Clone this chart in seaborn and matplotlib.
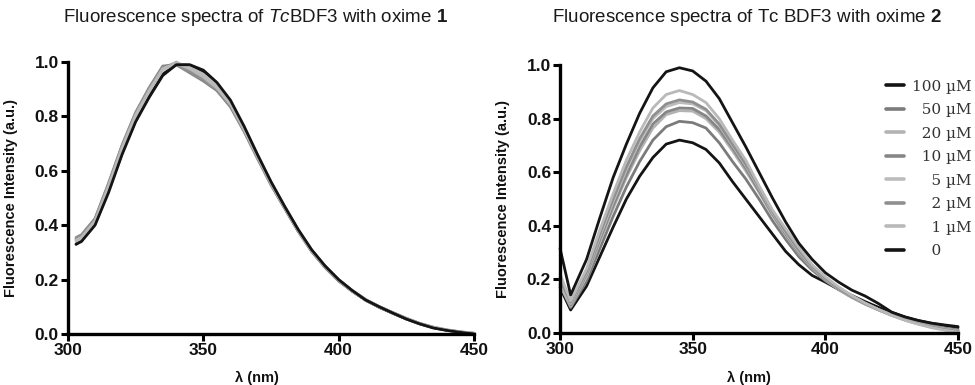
import numpy as np
import pandas as pd
import seaborn as sns
import matplotlib
matplotlib.use('Agg')
import matplotlib.pyplot as plt

sns.set_theme(style='ticks')
plt.rcParams['font.family'] = ['Liberation Sans', 'DejaVu Sans']
plt.rcParams['mathtext.fontset'] = 'custom'
plt.rcParams['mathtext.rm'] = 'Liberation Sans'
plt.rcParams['mathtext.it'] = 'Liberation Sans:italic'
plt.rcParams['mathtext.bf'] = 'Liberation Sans:bold'

concentrations = ['100 µM', '50 µM', '20 µM', '10 µM', '5 µM', '2 µM', '1 µM', '0']
legend_labels = ['100 µM', '\u200750 µM', '\u200720 µM', '\u200710 µM',
                 '\u2007\u20075 µM', '\u2007\u20072 µM', '\u2007\u20071 µM', '\u2007\u20070']
shades = ['#141414', '#7b7b7b', '#b3b3b3', '#868686', '#bcbcbc', '#8f8f8f', '#b9b9b9', '#141414']

# wavelength grids (nm)
wl_1 = [303, 305] + list(range(310, 451, 5))
wl_2 = [300, 304] + list(range(310, 451, 5))

# oxime 1, normalised spectra
ox1_100 = [0.33, 0.345, 0.405, 0.53, 0.665, 0.785, 0.875, 0.955, 0.99, 0.988, 0.965, 0.92, 0.855, 0.76, 0.655, 0.555,
           0.465, 0.38, 0.307, 0.248, 0.198, 0.158, 0.124, 0.098, 0.076, 0.055, 0.037, 0.023, 0.014, 0.007, 0.001]
ox1_50 = [0.35, 0.36, 0.42, 0.55, 0.69, 0.81, 0.90, 0.98, 0.995, 0.97, 0.94, 0.90, 0.84, 0.75, 0.65, 0.55,
          0.465, 0.38, 0.305, 0.245, 0.195, 0.158, 0.125, 0.10, 0.078, 0.057, 0.038, 0.024, 0.014, 0.007, 0.002]
ox1_20 = [0.345, 0.355, 0.415, 0.545, 0.685, 0.805, 0.895, 0.975, 1.0, 0.975, 0.95, 0.91, 0.845, 0.755, 0.655, 0.555,
          0.468, 0.383, 0.308, 0.248, 0.198, 0.16, 0.127, 0.101, 0.079, 0.058, 0.039, 0.025, 0.015, 0.008, 0.003]
ox1_10 = [0.35, 0.36, 0.42, 0.55, 0.69, 0.81, 0.905, 0.985, 0.99, 0.96, 0.93, 0.895, 0.835, 0.745, 0.645, 0.548,
          0.462, 0.378, 0.303, 0.244, 0.195, 0.157, 0.124, 0.099, 0.077, 0.056, 0.038, 0.024, 0.014, 0.007, 0.002]
ox1_5 = [0.34, 0.35, 0.41, 0.54, 0.68, 0.80, 0.89, 0.97, 0.995, 0.98, 0.955, 0.915, 0.85, 0.758, 0.658, 0.558,
         0.47, 0.384, 0.308, 0.249, 0.199, 0.16, 0.126, 0.10, 0.078, 0.057, 0.039, 0.025, 0.015, 0.008, 0.003]
ox1_2 = [0.355, 0.365, 0.425, 0.555, 0.695, 0.815, 0.905, 0.98, 0.99, 0.965, 0.935, 0.90, 0.84, 0.75, 0.65, 0.552,
         0.465, 0.38, 0.305, 0.246, 0.196, 0.158, 0.125, 0.10, 0.078, 0.057, 0.038, 0.024, 0.014, 0.007, 0.002]
ox1_1 = [0.345, 0.355, 0.415, 0.545, 0.685, 0.805, 0.895, 0.975, 0.995, 0.975, 0.945, 0.905, 0.845, 0.752, 0.652, 0.553,
         0.466, 0.381, 0.306, 0.247, 0.197, 0.159, 0.126, 0.10, 0.078, 0.057, 0.038, 0.024, 0.014, 0.007, 0.002]
ox1_0 = [0.33, 0.34, 0.40, 0.52, 0.66, 0.78, 0.87, 0.95, 0.99, 0.99, 0.97, 0.925, 0.86, 0.765, 0.66, 0.56,
         0.47, 0.385, 0.31, 0.25, 0.20, 0.16, 0.125, 0.10, 0.077, 0.055, 0.037, 0.022, 0.013, 0.006, 0.0]

# oxime 2, spectra normalised to the ligand-free sample
ox2_100 = [0.17, 0.086, 0.175, 0.285, 0.395, 0.50, 0.585, 0.655, 0.705, 0.72, 0.71, 0.685, 0.635, 0.565, 0.50, 0.435,
           0.37, 0.305, 0.255, 0.215, 0.19, 0.163, 0.14, 0.117, 0.096, 0.077, 0.06, 0.046, 0.036, 0.028, 0.02]
ox2_50 = [0.18, 0.095, 0.195, 0.315, 0.435, 0.545, 0.64, 0.72, 0.77, 0.79, 0.785, 0.765, 0.71, 0.64, 0.575, 0.50,
          0.42, 0.35, 0.285, 0.235, 0.195, 0.162, 0.133, 0.108, 0.087, 0.068, 0.052, 0.039, 0.028, 0.019, 0.012]
ox2_20 = [0.18, 0.10, 0.21, 0.34, 0.465, 0.58, 0.68, 0.765, 0.815, 0.83, 0.828, 0.80, 0.75, 0.68, 0.605, 0.525,
          0.44, 0.365, 0.297, 0.242, 0.198, 0.163, 0.133, 0.108, 0.086, 0.066, 0.05, 0.036, 0.024, 0.014, 0.006]
ox2_10 = [0.21, 0.105, 0.22, 0.35, 0.475, 0.59, 0.695, 0.78, 0.825, 0.84, 0.838, 0.81, 0.76, 0.69, 0.615, 0.53,
          0.445, 0.37, 0.30, 0.245, 0.20, 0.165, 0.135, 0.11, 0.088, 0.068, 0.052, 0.038, 0.027, 0.018, 0.01]
ox2_5 = [0.19, 0.11, 0.225, 0.36, 0.49, 0.61, 0.715, 0.80, 0.845, 0.86, 0.855, 0.83, 0.775, 0.70, 0.625, 0.54,
         0.45, 0.375, 0.305, 0.248, 0.203, 0.167, 0.136, 0.11, 0.087, 0.067, 0.05, 0.036, 0.024, 0.015, 0.008]
ox2_2 = [0.20, 0.115, 0.23, 0.37, 0.50, 0.62, 0.725, 0.81, 0.855, 0.87, 0.862, 0.835, 0.78, 0.705, 0.63, 0.545,
         0.455, 0.38, 0.31, 0.25, 0.205, 0.168, 0.137, 0.11, 0.087, 0.066, 0.048, 0.034, 0.022, 0.013, 0.006]
ox2_1 = [0.22, 0.12, 0.24, 0.385, 0.52, 0.645, 0.75, 0.84, 0.89, 0.905, 0.89, 0.86, 0.80, 0.72, 0.645, 0.55,
         0.46, 0.39, 0.32, 0.255, 0.21, 0.172, 0.14, 0.112, 0.088, 0.066, 0.048, 0.033, 0.02, 0.01, 0.003]
ox2_0 = [0.316, 0.142, 0.275, 0.43, 0.58, 0.705, 0.82, 0.915, 0.975, 0.99, 0.978, 0.94, 0.875, 0.785, 0.695, 0.60,
         0.505, 0.415, 0.335, 0.275, 0.225, 0.19, 0.16, 0.138, 0.11, 0.078, 0.06, 0.047, 0.037, 0.03, 0.024]

series_1 = [ox1_100, ox1_50, ox1_20, ox1_10, ox1_5, ox1_2, ox1_1, ox1_0]
series_2 = [ox2_100, ox2_50, ox2_20, ox2_10, ox2_5, ox2_2, ox2_1, ox2_0]


def long_form(wl, series):
    frames = [pd.DataFrame({'wl': wl, 'fi': vals, 'conc': c}) for c, vals in zip(concentrations, series)]
    return pd.concat(frames, ignore_index=True)


fig = plt.figure(figsize=(9.75, 3.85), dpi=100)
ax1 = fig.add_axes([0.0697, 0.1325, 0.4165, 0.7065])
ax2 = fig.add_axes([0.5744, 0.135, 0.4082, 0.696])
palette = dict(zip(concentrations, shades))

for ax, wl, series in [(ax1, wl_1, series_1), (ax2, wl_2, series_2)]:
    sns.lineplot(data=long_form(wl, series), x='wl', y='fi', hue='conc', hue_order=concentrations,
                 palette=palette, estimator=None, sort=False, lw=2.0, ax=ax, legend=(ax is ax2))
    for line in ax.get_lines():
        line.set_clip_on(False)
        line.set_solid_joinstyle('round')
    ax.set(xlim=(300, 450), ylim=(0, 1), xticks=[300, 350, 400, 450],
           yticks=[0, 0.2, 0.4, 0.6, 0.8, 1.0])
    ax.set_yticklabels(['0.0', '0.2', '0.4', '0.6', '0.8', '1.0'])
    sns.despine(ax=ax)
    for side in ['left', 'bottom']:
        ax.spines[side].set_linewidth(2.4)
        ax.spines[side].set_color('black')
    ax.tick_params(width=2.2, length=5, color='black', labelsize=12.5, pad=1.5, labelcolor='#111111')
    for lbl in ax.get_xticklabels() + ax.get_yticklabels():
        lbl.set_fontweight('bold')
    ax.set_ylabel('Fluorescence Intensity (a.u.)', fontsize=10.5, fontweight='bold', color='#111111')
    ax.set_xlabel('λ (nm)', fontsize=10.5, fontweight='bold', color='#111111')

ax1.yaxis.set_label_coords(-0.123, 0.5)
ax2.yaxis.set_label_coords(-0.126, 0.5)
ax1.xaxis.set_label_coords(0.466, -0.137)
ax2.xaxis.set_label_coords(0.475, -0.14)

fig.text(0.2615, 0.955, r'Fluorescence spectra of $\mathit{Tc}$BDF3 with oxime $\mathbf{1}$',
         ha='center', va='center', fontsize=13.5, color='#1a1a1a')
fig.text(0.766, 0.955, r'Fluorescence spectra of Tc BDF3 with oxime $\mathbf{2}$',
         ha='center', va='center', fontsize=13.5, color='#1a1a1a')

handles, _ = ax2.get_legend_handles_labels()
ax2.get_legend().remove()
leg = fig.legend(handles, legend_labels, loc='upper left', bbox_to_anchor=(0.909, 0.793),
                 bbox_transform=fig.transFigure, frameon=False, borderaxespad=0, borderpad=0,
                 handlelength=1.15, handletextpad=0.55, labelspacing=0.62,
                 prop={'family': 'DejaVu Serif', 'size': 11})
for h in leg.get_lines():
    h.set_linewidth(2.6)
for t in leg.get_texts():
    t.set_color('#333333')

fig.savefig('out.png', dpi=100)
